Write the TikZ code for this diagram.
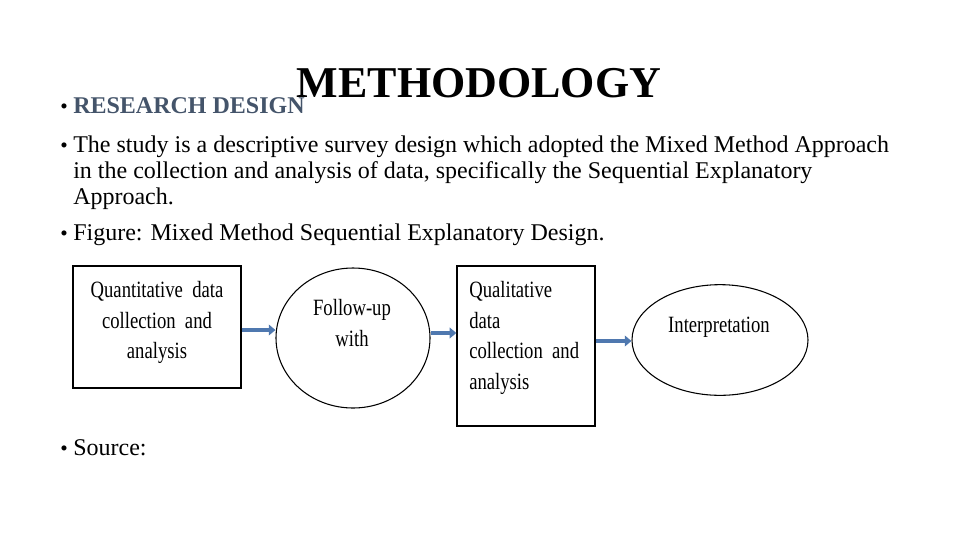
\documentclass[tikz,border=0pt]{standalone}
\usepackage{fontspec}
\setmainfont{Liberation Serif}
\newfontfamily\figfont[FakeStretch=0.8]{Liberation Serif}
\usetikzlibrary{arrows.meta,shapes.geometric}
\definecolor{slate}{RGB}{68,84,106}
\definecolor{arrowblue}{RGB}{79,120,175}
\begin{document}
\begin{tikzpicture}[x=0.75pt,y=-0.75pt,
  body/.style={anchor=base west,inner sep=0pt,font=\fontsize{18}{21}\selectfont},
  bul/.style={anchor=base west,inner sep=0pt,font=\fontsize{16}{19}\selectfont},
  boxnode/.style={draw,line width=1pt,inner sep=0pt},
  ovalnode/.style={draw,ellipse,line width=0.8pt,inner sep=0pt},
  figtext/.style={inner sep=0pt,font=\figfont\fontsize{17.5}{23}\selectfont},
  flow/.style={draw=arrowblue,line width=3pt,-{Triangle[length=5pt,width=8pt]}}]
\useasboundingbox (0,0) rectangle (960,540);
% title
\node[anchor=base,inner sep=0pt,font=\fontsize{33}{36}\bfseries\selectfont] (title) at (479,97) {METHODOLOGY};
% bullets
\node[bul] (b1) at (60,113) {\textbullet};
\node[body,font=\fontsize{18}{21}\bfseries\selectfont,text=slate] (rd) at (73,113) {RESEARCH DESIGN};
\node[bul] (b2) at (60,152) {\textbullet};
\node[body] (l1) at (73,152) {The study is a descriptive survey design which adopted the Mixed Method Approach};
\node[body] (l2) at (73,178) {in the collection and analysis of data, specifically the Sequential Explanatory};
\node[body] (l3) at (73,204) {Approach.};
\node[bul] (b3) at (60,240) {\textbullet};
\node[body] (l4) at (73,240) {Figure: Mixed Method Sequential Explanatory Design.};
\node[bul] (b4) at (60,455) {\textbullet};
\node[body] (l5) at (73,455) {Source:};
% diagram shapes
\node[boxnode,minimum width=126pt,minimum height=91.5pt] (q1) at (157,327) {};
\node[ovalnode,minimum width=115.5pt,minimum height=105pt] (c1) at (353,338) {};
\node[boxnode,minimum width=103.5pt,minimum height=120pt] (q2) at (526,346) {};
\node[ovalnode,minimum width=132pt,minimum height=83pt] (e2) at (720,340) {};
% diagram texts
\node[figtext,align=center,anchor=north] (t1) at (157,281) {Quantitative\ \ data\\collection\ \ and\\analysis};
\node[figtext,align=center,anchor=north] (t2) at (352,299) {Follow-up\\with};
\node[figtext,align=left,anchor=north west] (t3) at (469,281) {Qualitative\\data\\collection\ \ and\\analysis};
\node[figtext,anchor=north] (t4) at (719,317) {Interpretation};
% connectors
\draw[flow] (q1.east |- 0,330) -- (c1.west |- 0,330);
\draw[flow] (c1.east |- 0,333) -- (q2.west |- 0,333);
\draw[flow] (q2.east |- 0,341) -- (e2.west |- 0,341);
\end{tikzpicture}
\end{document}
